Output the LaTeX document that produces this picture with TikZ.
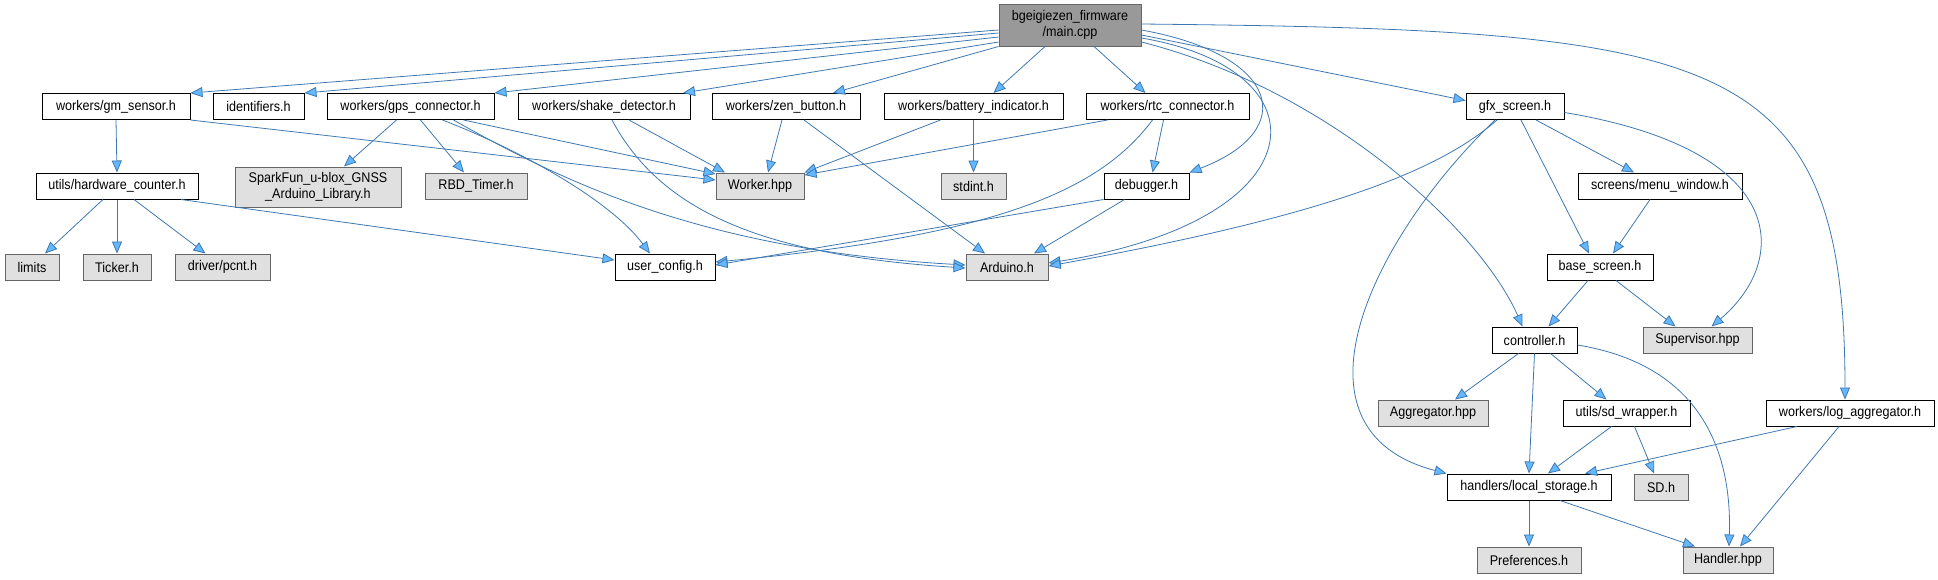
\documentclass[tikz,border=0pt]{standalone}
\usepackage{fontspec}
\setmainfont[FakeStretch=0.9]{Liberation Sans}
\usepackage{tikz}
\usetikzlibrary{arrows.meta}
\definecolor{edgeblue}{HTML}{3F78B0}
\definecolor{tipblue}{HTML}{63B8FF}
\definecolor{extgray}{HTML}{E0E0E0}
\definecolor{maingray}{HTML}{999999}
\definecolor{bordergray}{HTML}{666666}

\begin{document}
\begin{tikzpicture}[x=1pt, y=-1pt,
  filebox/.style={draw=black, fill=white, line width=1pt, inner sep=0pt, minimum height=26pt, font=\fontsize{14}{16}\selectfont},
  extbox/.style={filebox, draw=bordergray, fill=extgray},
  mainbox/.style={filebox, draw=bordergray, fill=maingray, align=center, minimum height=42pt},
  dep/.style={draw=edgeblue, line width=0.8pt, -{Triangle[length=12pt, width=10pt, fill=tipblue]}},
]
\useasboundingbox (0,0) rectangle (1938,579);

% rows: 25 / 106.5 / 186 / 267 / 340 / 413 / 487 / 560
\node[mainbox, minimum width=142pt] (main) at (1070,25) {bgeigiezen\_firmware\\/main.cpp};

\node[filebox, minimum width=148pt] (gmsensor) at (116,106.5)  {workers/gm\_sensor.h};
\node[filebox, minimum width=91pt]  (ident)    at (258.5,106.5) {identifiers.h};
\node[filebox, minimum width=167pt] (gps)      at (410.5,106.5) {workers/gps\_connector.h};
\node[filebox, minimum width=172pt] (shake)    at (604,106.5)  {workers/shake\_detector.h};
\node[filebox, minimum width=148pt] (zen)      at (786,106.5)  {workers/zen\_button.h};
\node[filebox, minimum width=179pt] (battery)  at (973.5,106.5) {workers/battery\_indicator.h};
\node[filebox, minimum width=163pt] (rtc)      at (1167.5,106.5) {workers/rtc\_connector.h};
\node[filebox, minimum width=98pt]  (gfx)      at (1515,106.5) {gfx\_screen.h};

\node[filebox, minimum width=162pt] (hwcounter) at (117,186) {utils/hardware\_counter.h};
\node[extbox, minimum width=166pt, minimum height=40pt, align=center] (sparkfun) at (318,187) {SparkFun\_u-blox\_GNSS\\\_Arduino\_Library.h};
\node[extbox, minimum width=102pt] (rbd)      at (476,186)  {RBD\_Timer.h};
\node[extbox, minimum width=88pt]  (worker)   at (760,186)  {Worker.hpp};
\node[extbox, minimum width=65pt]  (stdint)   at (973.5,186) {stdint.h};
\node[filebox, minimum width=85pt] (debugger) at (1146.5,186) {debugger.h};
\node[filebox, minimum width=164pt] (menuwin) at (1660,186) {screens/menu\_window.h};

\node[extbox, minimum width=54pt]  (limits)     at (32,267)   {limits};
\node[extbox, minimum width=68pt]  (ticker)     at (117,267)  {Ticker.h};
\node[extbox, minimum width=95pt]  (pcnt)       at (222.5,267) {driver/pcnt.h};
\node[filebox, minimum width=100pt] (userconfig) at (665,267) {user\_config.h};
\node[extbox, minimum width=82pt]  (arduino)    at (1007,267) {Arduino.h};
\node[filebox, minimum width=106pt] (basescreen) at (1600,267) {base\_screen.h};

\node[filebox, minimum width=85pt] (controller) at (1534.5,340) {controller.h};
\node[extbox, minimum width=109pt] (supervisor) at (1697.5,340) {Supervisor.hpp};

\node[extbox, minimum width=110pt]  (aggregator) at (1433,413)   {Aggregator.hpp};
\node[filebox, minimum width=127pt] (sdwrapper)  at (1626.5,413) {utils/sd\_wrapper.h};
\node[filebox, minimum width=168pt] (logaggr)    at (1850,413)   {workers/log\_aggregator.h};

\node[filebox, minimum width=164pt] (localstorage) at (1529,487) {handlers/local\_storage.h};
\node[extbox, minimum width=54pt]   (sdh)          at (1661,487) {SD.h};

\node[extbox, minimum width=104pt] (preferences) at (1529,560) {Preferences.h};
\node[extbox, minimum width=90pt]  (handler)     at (1728,560) {Handler.hpp};

% main.cpp
\draw[dep] ([yshift=-5pt]main.west) -- (gmsensor.north east);
\draw[dep] ([yshift=-8pt]main.west) -- (ident.north east);
\draw[dep] ([yshift=-12pt]main.west) -- (gps.north east);
\draw[dep] ([yshift=-17pt]main.west) -- ([xshift=79pt]shake.north);
\draw[dep] (main.south west) -- ([xshift=47pt]zen.north);
\draw[dep] ([xshift=-25pt]main.south) -- ([xshift=20pt]battery.north);
\draw[dep] ([xshift=24pt]main.south) -- ([xshift=-22pt]rtc.north);
\draw[dep] ([yshift=-10pt]main.east) -- ([yshift=6pt]gfx.west);
\draw[dep] ([yshift=-5pt]main.east) .. controls (1280,55) and (1300,130) .. (debugger.north east);
\draw[dep] ([yshift=-13pt]main.east) .. controls (1330,70) and (1320,220) .. ([yshift=4pt]arduino.east);
\draw[dep] ([yshift=-17pt]main.east) .. controls (1330,90) and (1480,230) .. ([xshift=-12pt]controller.north);
\draw[dep] ([yshift=1pt]main.east) .. controls (1720,30) and (1845,50) .. ([xshift=-5pt]logaggr.north);

% workers
\draw[dep] (gmsensor.south) -- (hwcounter.north);
\draw[dep] (gmsensor.south east) -- ([yshift=6pt]worker.west);
\draw[dep] ([xshift=-14pt]hwcounter.south) -- ([xshift=13pt]limits.north);
\draw[dep] (hwcounter.south) -- (ticker.north);
\draw[dep] ([xshift=17pt]hwcounter.south) -- ([xshift=-17pt]pcnt.north);
\draw[dep] ([xshift=64pt]hwcounter.south) -- ([yshift=7pt]userconfig.west);
\draw[dep] ([xshift=-14pt]gps.south) -- ([xshift=26pt]sparkfun.north);
\draw[dep] ([xshift=10pt]gps.south) -- ([xshift=-12pt]rbd.north);
\draw[dep] ([xshift=32pt]gps.south) .. controls (520,150) and (610,200) .. ([xshift=-15pt]userconfig.north);
\draw[dep] ([xshift=53pt]gps.south) -- ([yshift=12pt]worker.west);
\draw[dep] ([xshift=43pt]gps.south) .. controls (560,180) and (700,250) .. ([yshift=2pt]arduino.west);
\draw[dep] ([xshift=25pt]shake.south) -- ([xshift=-35pt]worker.north);
\draw[dep] ([xshift=8pt]shake.south) .. controls (660,210) and (760,255) .. ([yshift=-1pt]arduino.west);
\draw[dep] ([xshift=-4pt]zen.south) -- ([xshift=8pt]worker.north);
\draw[dep] ([xshift=18pt]zen.south) -- ([xshift=-22pt]arduino.north);
\draw[dep] ([xshift=-33pt]battery.south) -- (worker.north east);
\draw[dep] (battery.south) -- (stdint.north);
\draw[dep] ([xshift=-60pt]rtc.south) -- ([yshift=11pt]worker.east);
\draw[dep] ([xshift=-15pt]rtc.south) .. controls (1100,190) and (1000,235) .. ([yshift=5pt]userconfig.east);
\draw[dep] ([xshift=-4pt]rtc.south) -- ([xshift=6pt]debugger.north);
\draw[dep] (debugger.south west) -- ([yshift=2pt]userconfig.east);
\draw[dep] ([xshift=-22pt]debugger.south) -- ([xshift=27pt]arduino.north);

% screens
\draw[dep] ([xshift=-18pt]gfx.south) .. controls (1440,170) and (1330,215) .. ([yshift=1pt]arduino.east);
\draw[dep] ([xshift=-20pt]gfx.south) .. controls (1370,240) and (1280,430) .. (localstorage.north west);
\draw[dep] ([xshift=6pt]gfx.south) -- ([xshift=-11pt]basescreen.north);
\draw[dep] ([xshift=21pt]gfx.south) -- ([xshift=-26pt]menuwin.north);
\draw[dep] ([yshift=-6pt]gfx.east) .. controls (1790,150) and (1790,260) .. ([xshift=14pt]supervisor.north);
\draw[dep] ([xshift=-10pt]menuwin.south) -- ([xshift=13pt]basescreen.north);
\draw[dep] ([xshift=-12pt]basescreen.south) -- ([xshift=14pt]controller.north);
\draw[dep] ([xshift=16pt]basescreen.south) -- ([xshift=-22pt]supervisor.north);

% storage
\draw[dep] ([xshift=-16pt]controller.south) -- ([xshift=22pt]aggregator.north);
\draw[dep] (controller.south) -- (localstorage.north);
\draw[dep] ([xshift=16pt]controller.south) -- ([xshift=-20pt]sdwrapper.north);
\draw[dep] ([yshift=-5pt]controller.east) .. controls (1700,365) and (1732,450) .. ([xshift=1pt]handler.north);
\draw[dep] ([xshift=-15pt]sdwrapper.south) -- ([xshift=19pt]localstorage.north);
\draw[dep] ([xshift=8pt]sdwrapper.south) -- ([xshift=-7pt]sdh.north);
\draw[dep] ([xshift=-53pt]logaggr.south) -- ([xshift=56pt]localstorage.north);
\draw[dep] ([xshift=-11pt]logaggr.south) -- ([xshift=12pt]handler.north);
\draw[dep] (localstorage.south) -- (preferences.north);
\draw[dep] ([xshift=31pt]localstorage.south) -- ([xshift=-33pt]handler.north);
\end{tikzpicture}
\end{document}
